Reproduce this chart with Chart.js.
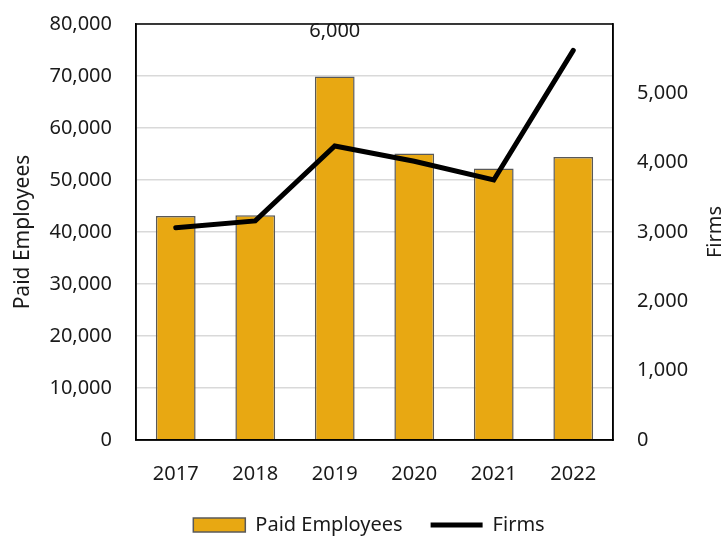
<!DOCTYPE html>
<html>
<head>
<meta charset="utf-8">
<script src="https://cdn.jsdelivr.net/npm/chart.js@4"></script>
<style>
  body { margin: 0; background: #fff; }
</style>
</head>
<body>
<canvas id="myChart" width="728" height="537"></canvas>
<script>
// data
const years = ['2017', '2018', '2019', '2020', '2021', '2022'];
const paidEmployees = [43100, 43200, 69900, 55100, 52200, 54400];
const firms = [3060, 3160, 4240, 4020, 3750, 5620];
const leftTicks = [0, 10000, 20000, 30000, 40000, 50000, 60000, 70000, 80000];
const rightTicks = [0, 1000, 2000, 3000, 4000, 5000];

const FONT = '"Noto Sans", "Open Sans", sans-serif';
const TEXT = '#1a1a1a';

// the stray "6,000" label over 2019, the black frame, and the right title read bottom-to-top
const extras = {
  id: 'extras',
  beforeInit(chart) {
    // keep the legend short so it sits near the bottom edge
    const fit = chart.legend.fit;
    chart.legend.fit = function () {
      fit.call(this);
      this.height = 50;
    };
  },
  afterDraw(chart) {
    const ctx = chart.ctx;
    const a = chart.chartArea;
    const y1 = chart.scales.y1;
    ctx.save();
    ctx.strokeStyle = '#000';
    ctx.lineWidth = 1.5;
    ctx.strokeRect(a.left, a.top, a.right - a.left, a.bottom - a.top);
    ctx.fillStyle = TEXT;
    ctx.font = '20px ' + FONT;
    ctx.textAlign = 'center';
    ctx.textBaseline = 'middle';
    ctx.fillText('6,000', chart.scales.x.getPixelForValue(2), y1.getPixelForValue(6000) + 7);
    ctx.translate(y1.right - 13, (a.top + a.bottom) / 2);
    ctx.rotate(-Math.PI / 2);
    ctx.fillText('Firms', 0, 0);
    ctx.restore();
  }
};

// tick padding would otherwise push the plot down from the top
function noTopPad(axis) {
  axis.paddingTop = 0;
}

const config = {
  data: {
    labels: years,
    datasets: [
      {
        type: 'line',
        label: 'Firms',
        data: firms,
        yAxisID: 'y1',
        borderColor: '#000',
        backgroundColor: '#000',
        borderWidth: 5,
        borderCapStyle: 'round',
        pointRadius: 0,
        tension: 0,
        pointStyle: 'line',
        order: 0
      },
      {
        type: 'bar',
        label: 'Paid Employees',
        data: paidEmployees,
        yAxisID: 'y',
        backgroundColor: '#E8A812',
        borderColor: '#595959',
        borderWidth: 1.5,
        categoryPercentage: 1,
        barPercentage: 0.5,
        pointStyle: 'rect',
        order: 1
      }
    ]
  },
  options: {
    responsive: false,
    animation: false,
    layout: { padding: { top: 24, right: 0, left: 10, bottom: 0 } },
    plugins: {
      legend: {
        position: 'bottom',
        reverse: true,
        labels: {
          usePointStyle: true,
          pointStyleWidth: 52,
          boxHeight: 14,
          padding: 28,
          color: TEXT,
          font: { family: FONT, size: 20 }
        }
      },
      tooltip: { enabled: false }
    },
    scales: {
      x: {
        afterFit(axis) { axis.height = 47; },
        grid: { display: false },
        border: { color: '#000', width: 1.5 },
        ticks: { color: TEXT, font: { family: FONT, size: 20 }, padding: 14 }
      },
      y: {
        position: 'left',
        min: 0,
        max: 80000,
        afterBuildTicks(axis) { axis.ticks = leftTicks.map(v => ({ value: v })); },
        afterFit(axis) { axis.width = 126; noTopPad(axis); },
        grid: { color: '#d9d9d9', lineWidth: 1.5, drawTicks: false },
        border: { color: '#000', width: 1.5 },
        ticks: {
          color: TEXT,
          font: { family: FONT, size: 20 },
          padding: 24,
          callback: v => v.toLocaleString('en-US')
        },
        title: { display: true, text: 'Paid Employees', color: TEXT, font: { family: FONT, size: 21 }, padding: 0 }
      },
      y1: {
        position: 'right',
        min: 0,
        max: 6000,
        afterBuildTicks(axis) { axis.ticks = rightTicks.map(v => ({ value: v })); },
        afterFit(axis) { axis.width = 115; noTopPad(axis); },
        grid: { display: false, drawTicks: false },
        border: { color: '#000', width: 1.5 },
        ticks: {
          color: TEXT,
          font: { family: FONT, size: 20 },
          padding: 24,
          callback: v => v.toLocaleString('en-US')
        }
      }
    }
  },
  plugins: [extras]
};

new Chart(document.getElementById('myChart'), config);
</script>
</body>
</html>
